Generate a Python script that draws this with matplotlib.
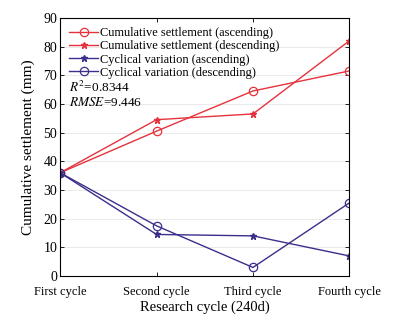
import numpy as np
import matplotlib.pyplot as plt

plt.rcParams['font.family'] = ['Liberation Serif', 'DejaVu Serif']
plt.rcParams['mathtext.fontset'] = 'stix'

cycles = ['First cycle', 'Second cycle', 'Third cycle', 'Fourth cycle']
cum_asc = [36, 50.5, 64.5, 71.5]
cum_desc = [36, 54.5, 56.5, 82]
cyc_asc = [36, 14.5, 14, 7]
cyc_desc = [36, 17.5, 3, 25.5]

red = '#e5323c'
blue = '#3a2f8c'

fig = plt.figure(figsize=(3.93, 3.24), dpi=100)
ax = fig.add_axes([0.153, 0.148, 0.736, 0.797])
x = np.arange(len(cycles))

ax.plot(x, cum_asc, color=red, lw=1, marker='o', ms=6, mfc='none', mew=0.9,
        label='Cumulative settlement (ascending)')
ax.plot(x, cum_desc, color=red, lw=1, marker='*', ms=4.5,
        label='Cumulative settlement (descending)')
ax.plot(x, cyc_asc, color=blue, lw=1, marker='*', ms=4.5,
        label='Cyclical variation (ascending)')
ax.plot(x, cyc_desc, color=blue, lw=1, marker='o', ms=6, mfc='none', mew=0.9,
        label='Cyclical variation (descending)')

ax.set_xlim(0, 3)
ax.set_ylim(0, 90)
ax.set_xticks(x)
ax.set_xticklabels(cycles, fontsize=9)
ax.set_yticks(np.arange(0, 91, 10))
ax.tick_params(axis='y', labelsize=10, pad=2)
ax.tick_params(axis='x', pad=7)
ax.tick_params(direction='in', length=3, top=True, right=True, width=0.6)
ax.grid(axis='y', color='#e6e6e6', lw=0.6)
ax.set_axisbelow(True)
for s in ax.spines.values():
    s.set_linewidth(0.8)

ax.set_xlabel('Research cycle (240d)', fontsize=10.5, labelpad=2)
ax.set_ylabel('Cumulative settlement (mm)', fontsize=11, labelpad=6)

ax.legend(loc='upper left', fontsize=8.9, frameon=False, handlelength=2.3,
          handletextpad=0.15, labelspacing=0.1, borderaxespad=0.45,
          borderpad=0.3)
ax.text(0.03, 0.73, r'$R^2$=0.8344', transform=ax.transAxes, fontsize=9.5,
        va='center')
ax.text(0.03, 0.672, r'$RMSE$=9.446', transform=ax.transAxes, fontsize=9.5,
        va='center')

fig.savefig('out.png', dpi=100)
